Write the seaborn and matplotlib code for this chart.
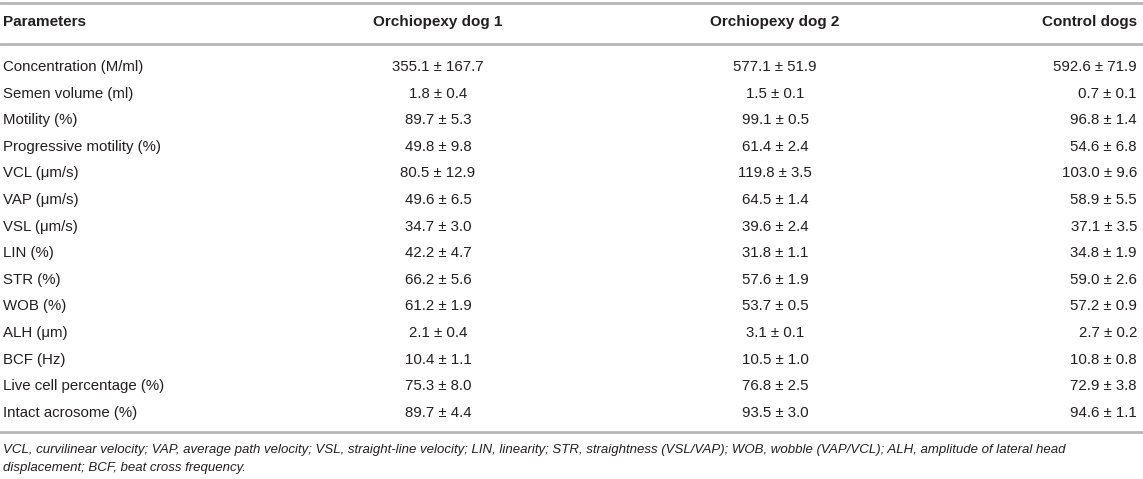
import matplotlib
matplotlib.use("Agg")
import matplotlib.pyplot as plt
import seaborn as sns

# Table data
parameters = ["Concentration (M/ml)", "Semen volume (ml)", "Motility (%)",
              "Progressive motility (%)", "VCL (\u03bcm/s)", "VAP (\u03bcm/s)",
              "VSL (\u03bcm/s)", "LIN (%)", "STR (%)", "WOB (%)", "ALH (\u03bcm)",
              "BCF (Hz)", "Live cell percentage (%)", "Intact acrosome (%)"]
dog1_mean = [355.1, 1.8, 89.7, 49.8, 80.5, 49.6, 34.7, 42.2, 66.2, 61.2, 2.1, 10.4, 75.3, 89.7]
dog1_sd = [167.7, 0.4, 5.3, 9.8, 12.9, 6.5, 3.0, 4.7, 5.6, 1.9, 0.4, 1.1, 8.0, 4.4]
dog2_mean = [577.1, 1.5, 99.1, 61.4, 119.8, 64.5, 39.6, 31.8, 57.6, 53.7, 3.1, 10.5, 76.8, 93.5]
dog2_sd = [51.9, 0.1, 0.5, 2.4, 3.5, 1.4, 2.4, 1.1, 1.9, 0.5, 0.1, 1.0, 2.5, 3.0]
ctrl_mean = [592.6, 0.7, 96.8, 54.6, 103.0, 58.9, 37.1, 34.8, 59.0, 57.2, 2.7, 10.8, 72.9, 94.6]
ctrl_sd = [71.9, 0.1, 1.4, 6.8, 9.6, 5.5, 3.5, 1.9, 2.6, 0.9, 0.2, 0.8, 3.8, 1.1]
headers = ["Parameters", "Orchiopexy dog 1", "Orchiopexy dog 2", "Control dogs"]
footnote = ["VCL, curvilinear velocity; VAP, average path velocity; VSL, straight-line velocity; "
            "LIN, linearity; STR, straightness (VSL/VAP); WOB, wobble (VAP/VCL); ALH, amplitude of lateral head",
            "displacement; BCF, beat cross frequency."]

sns.set_theme(style="white")
plt.rcParams["font.family"] = ["Liberation Sans", "DejaVu Sans"]

txt = "#231f20"
rule = "#b5b5b5"
fs = 10.8

fig = plt.figure(figsize=(11.43, 4.79), dpi=100)
ax = fig.add_axes([0, 0, 1, 1])
ax.set_xlim(0, 1143)
ax.set_ylim(15.49, -2.52)
ax.axis("off")

col_x = [3, 438, 775, 1137]
col_ha = ["left", "center", "center", "right"]

# header
for x, ha, h in zip(col_x, col_ha, headers):
    ax.text(x, -1.69, h, ha=ha, va="center", fontsize=11, fontweight="bold", color=txt)

# rules
for y in [-2.41, -0.865, 13.72]:
    ax.axhline(y, color=rule, lw=2)

# body
for i, p in enumerate(parameters):
    cells = [p,
             f"{dog1_mean[i]:.1f} \u00b1 {dog1_sd[i]:.1f}",
             f"{dog2_mean[i]:.1f} \u00b1 {dog2_sd[i]:.1f}",
             f"{ctrl_mean[i]:.1f} \u00b1 {ctrl_sd[i]:.1f}"]
    for x, ha, c in zip(col_x, col_ha, cells):
        ax.text(x, i, c, ha=ha, va="center", fontsize=fs, color=txt)

# footnote
for j, line in enumerate(footnote):
    ax.text(3, 14.4 + 0.68 * j, line, ha="left", va="center", fontsize=9.5,
            style="italic", color=txt)

fig.savefig("out.png", dpi=100)
